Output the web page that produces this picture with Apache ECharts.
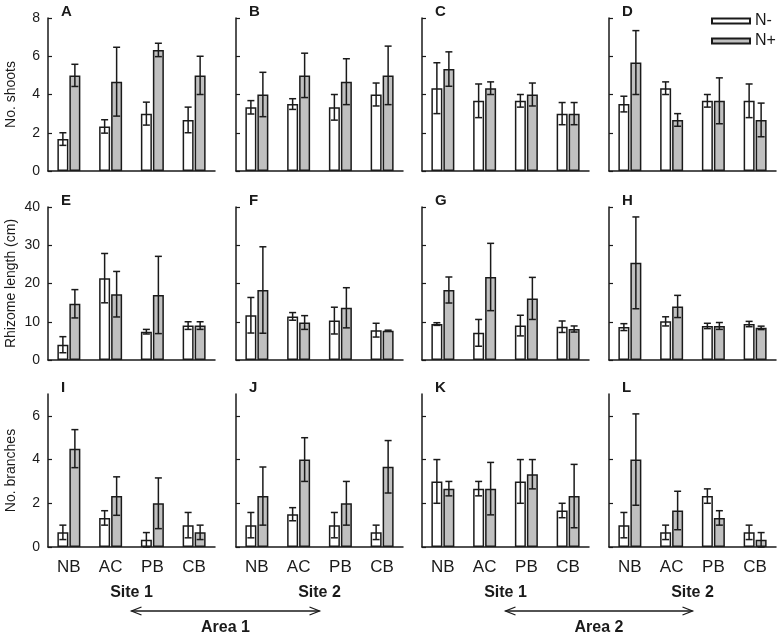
<!DOCTYPE html>
<html>
<head>
<meta charset="utf-8">
<script src="https://cdn.jsdelivr.net/npm/echarts@6/dist/echarts.min.js"></script>
<style>html,body{margin:0;padding:0;background:#fff}#c{width:781px;height:638px}</style>
</head>
<body>
<div id="c"></div>
<script>
// ---------- DATA ----------
var categories = ['NB', 'AC', 'PB', 'CB'];
var panelLetters = [['A','B','C','D'], ['E','F','G','H'], ['I','J','K','L']];
var rowTitles = ['No. shoots', 'Rhizome length (cm)', 'No. branches'];
var rowMax = [8, 40, 7];
var rowTicks = [[0,2,4,6,8], [0,10,20,30,40], [0,2,4,6]];
var siteLabels = ['Site 1', 'Site 2', 'Site 1', 'Site 2'];
var areaLabels = ['Area 1', 'Area 2'];

// No. shoots (panels A-D)
var shootsNeg    = [[1.67,2.33,3.00,2.67],[3.33,3.50,3.33,4.00],[4.33,3.67,3.67,3.00],[3.50,4.33,3.67,3.67]];
var shootsNegErr = [[0.33,0.35,0.60,0.67],[0.35,0.28,0.67,0.60],[1.33,0.88,0.33,0.58],[0.41,0.33,0.33,0.88]];
var shootsPos    = [[5.00,4.67,6.33,5.00],[4.00,5.00,4.67,5.00],[5.33,4.33,4.00,3.00],[5.67,2.67,3.67,2.67]];
var shootsPosErr = [[0.58,1.80,0.35,1.00],[1.16,1.16,1.20,1.53],[0.90,0.33,0.60,0.58],[1.67,0.33,1.20,0.88]];
// Rhizome length (panels E-H)
var rhizNeg      = [[4.0,21.4,7.4,9.0],[11.7,11.4,10.3,7.8],[9.4,7.1,9.0,8.7],[8.6,10.1,8.9,9.4]];
var rhizNegErr   = [[2.1,6.45,0.6,1.0],[4.65,1.0,3.5,1.8],[0.35,3.5,2.7,1.5],[0.9,1.2,0.7,0.7]];
var rhizPos      = [[14.7,17.2,17.0,9.0],[18.3,9.8,13.65,7.65],[18.3,21.7,16.1,8.1],[25.4,14.0,8.9,8.4]];
var rhizPosErr   = [[3.7,5.95,10.1,1.0],[11.3,1.8,5.25,0.15],[3.4,8.8,5.5,0.8],[12.0,2.9,0.9,0.45]];
// No. branches (panels I-L)
var branchNeg    = [[0.67,1.33,0.33,1.00],[1.00,1.50,1.00,0.67],[3.00,2.67,3.00,1.67],[1.00,0.67,2.33,0.67]];
var branchNegErr = [[0.33,0.33,0.33,0.58],[0.58,0.30,0.58,0.33],[1.00,0.33,1.00,0.33],[0.58,0.33,0.33,0.33]];
var branchPos    = [[4.50,2.33,2.00,0.67],[2.33,4.00,2.00,3.67],[2.67,2.67,3.33,2.33],[4.00,1.67,1.33,0.33]];
var branchPosErr = [[0.87,0.88,1.16,0.33],[1.33,1.00,1.00,1.20],[0.33,1.20,0.67,1.45],[2.09,0.88,0.33,0.33]];

var negRows = [shootsNeg, rhizNeg, branchNeg];
var negErrRows = [shootsNegErr, rhizNegErr, branchNegErr];
var posRows = [shootsPos, rhizPos, branchPos];
var posErrRows = [shootsPosErr, rhizPosErr, branchPosErr];

// ---------- LAYOUT ----------
var colLeft = [48, 236, 422, 609];
var gridW = 167;
var rowTop = [18, 207, 394];
var gridH = 153;
var FONT = 'Liberation Sans, Arial, sans-serif';
var INK = '#1a1a1a';
var BAR_W = 11;
var OFFSET = 6;

var grids = [], xAxes = [], yAxes = [], series = [], graphics = [];

function errRenderer(offset) {
  return function (params, api) {
    var x = api.value(0), m = api.value(1), e = api.value(2);
    var top = api.coord([x, m + e]);
    var bot = api.coord([x, Math.max(0, m - e)]);
    var cx = top[0] + offset;
    var hw = 3.5;
    var st = { stroke: INK, lineWidth: 1.5 };
    return { type: 'group', children: [
      { type: 'line', shape: { x1: cx, y1: top[1], x2: cx, y2: bot[1] }, style: st },
      { type: 'line', shape: { x1: cx - hw, y1: top[1], x2: cx + hw, y2: top[1] }, style: st },
      { type: 'line', shape: { x1: cx - hw, y1: bot[1], x2: cx + hw, y2: bot[1] }, style: st }
    ]};
  };
}

for (var r = 0; r < 3; r++) {
  for (var c = 0; c < 4; c++) {
    var gi = r * 4 + c;
    grids.push({ left: colLeft[c], top: rowTop[r], width: gridW, height: gridH });
    xAxes.push({
      type: 'category', gridIndex: gi, data: categories,
      axisLine: { lineStyle: { color: INK, width: 1.5 } },
      axisTick: { alignWithLabel: true, length: 4, lineStyle: { color: INK, width: 1.2 } },
      axisLabel: { show: r === 2, color: INK, fontSize: 17, fontFamily: FONT, margin: 12 },
      splitLine: { show: false }
    });
    yAxes.push({
      type: 'value', gridIndex: gi, min: 0, max: rowMax[r],
      name: c === 0 ? rowTitles[r] : '',
      nameLocation: 'middle', nameRotate: 90, nameGap: 30,
      nameTextStyle: { color: INK, fontSize: 14, fontFamily: FONT },
      axisLine: { show: true, lineStyle: { color: INK, width: 1.5 } },
      axisTick: { show: true, inside: true, length: 4, customValues: rowTicks[r], lineStyle: { color: INK, width: 1.2 } },
      axisLabel: { show: c === 0, customValues: rowTicks[r], color: INK, fontSize: 14, fontFamily: FONT, margin: 8 },
      splitLine: { show: false }
    });
    var neg = negRows[r][c], negE = negErrRows[r][c], pos = posRows[r][c], posE = posErrRows[r][c];
    series.push({
      name: 'N-', type: 'bar', xAxisIndex: gi, yAxisIndex: gi, data: neg,
      barWidth: BAR_W, barGap: '9%',
      itemStyle: { color: '#ffffff', borderColor: INK, borderWidth: 1.5 },
      emphasis: { disabled: true }, animation: false
    });
    series.push({
      name: 'N+', type: 'bar', xAxisIndex: gi, yAxisIndex: gi, data: pos,
      barWidth: BAR_W, barGap: '9%',
      itemStyle: { color: '#c0c0c0', borderColor: INK, borderWidth: 1.5 },
      emphasis: { disabled: true }, animation: false
    });
    series.push({
      type: 'custom', xAxisIndex: gi, yAxisIndex: gi, z: 5,
      renderItem: errRenderer(-OFFSET), encode: { x: 0, y: 1 },
      data: neg.map(function (v, i) { return [i, v, negE[i]]; }), animation: false, silent: true
    });
    series.push({
      type: 'custom', xAxisIndex: gi, yAxisIndex: gi, z: 5,
      renderItem: errRenderer(OFFSET), encode: { x: 0, y: 1 },
      data: pos.map(function (v, i) { return [i, v, posE[i]]; }), animation: false, silent: true
    });
    graphics.push({
      type: 'text', left: colLeft[c] + 13, top: rowTop[r] - 14,
      style: { text: panelLetters[r][c], font: 'bold 15px ' + FONT, fill: INK }
    });
  }
}

// Site / Area labels and arrows
var siteY = 585, arrowY = 611, areaY = 620;
for (var c2 = 0; c2 < 4; c2++) {
  graphics.push({ type: 'text', x: colLeft[c2] + gridW / 2, y: siteY,
    style: { text: siteLabels[c2], font: 'bold 16px ' + FONT, fill: INK, textAlign: 'center' } });
}
for (var a = 0; a < 2; a++) {
  var x1 = colLeft[a * 2] + gridW / 2, x2 = colLeft[a * 2 + 1] + gridW / 2;
  var lst = { stroke: INK, lineWidth: 1.3, fill: null };
  graphics.push({ type: 'line', shape: { x1: x1, y1: arrowY, x2: x2, y2: arrowY }, style: lst });
  graphics.push({ type: 'polyline', shape: { points: [[x1 + 10, arrowY - 4], [x1, arrowY], [x1 + 10, arrowY + 4]] }, style: lst });
  graphics.push({ type: 'polyline', shape: { points: [[x2 - 10, arrowY - 4], [x2, arrowY], [x2 - 10, arrowY + 4]] }, style: lst });
  graphics.push({ type: 'text', x: (x1 + x2) / 2, y: areaY,
    style: { text: areaLabels[a], font: 'bold 16px ' + FONT, fill: INK, textAlign: 'center' } });
}

var chart = echarts.init(document.getElementById('c'), null, { renderer: 'canvas' });
chart.setOption({
  animation: false,
  backgroundColor: '#ffffff',
  textStyle: { fontFamily: FONT },
  legend: {
    data: ['N-', 'N+'], orient: 'vertical', left: 706, top: 8,
    itemWidth: 38, itemHeight: 5, itemGap: 4, icon: 'rect',
    textStyle: { fontSize: 16, color: INK, fontFamily: FONT }, selectedMode: false
  },
  grid: grids, xAxis: xAxes, yAxis: yAxes, series: series, graphic: graphics
});
</script>
</body>
</html>
